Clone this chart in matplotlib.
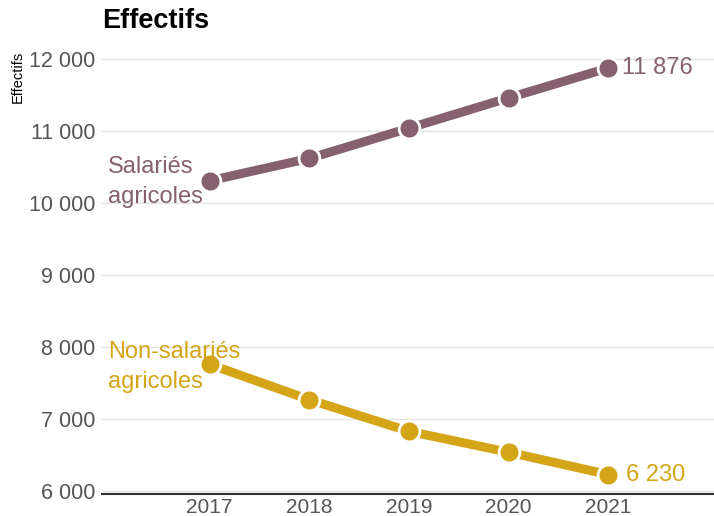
import matplotlib
matplotlib.use("Agg")
import matplotlib.pyplot as plt
from matplotlib.ticker import FuncFormatter

years = [2017, 2018, 2019, 2020, 2021]
salaries = [10310, 10620, 11040, 11460, 11876]
non_salaries = [7760, 7270, 6830, 6540, 6230]
yticks = [6000, 7000, 8000, 9000, 10000, 11000, 12000]

c_sal = "#85616f"
c_non = "#d4a517"

plt.rcParams['font.family'] = ['Liberation Sans', 'DejaVu Sans']

fig = plt.figure(figsize=(7.14, 5.16), dpi=100)
ax = fig.add_axes([102/714, 22/516, 612/714, 454/516])

for vals, c in [(salaries, c_sal), (non_salaries, c_non)]:
    ax.plot(years, vals, color=c, lw=6.5, solid_capstyle='butt', zorder=3,
            marker='o', markersize=15, markerfacecolor=c,
            markeredgecolor='white', markeredgewidth=2)

ax.set_xlim(2015.92, 2022.06)
ax.set_ylim(5960, 12264)
ax.set_yticks(yticks)
ax.set_xticks(years)
ax.yaxis.set_major_formatter(FuncFormatter(lambda v, p: f"{int(v):,}".replace(",", " ")))
ax.grid(axis='y', color='#e3e3e3', lw=1)
ax.set_axisbelow(True)
for s in ['top', 'right', 'left']:
    ax.spines[s].set_visible(False)
ax.spines['bottom'].set_color('#333333')
ax.spines['bottom'].set_linewidth(1.5)
ax.tick_params(axis='y', length=0, labelsize=15.5, labelcolor='#555555', pad=5)
ax.tick_params(axis='x', length=0, labelsize=15, labelcolor='#555555', pad=3)

ax.text(2021.14, salaries[-1], f"{salaries[-1]:,}".replace(",", " "), color=c_sal,
        fontsize=17, va='center', ha='left')
ax.text(2021.18, non_salaries[-1], f"{non_salaries[-1]:,}".replace(",", " "), color=c_non,
        fontsize=17, va='center', ha='left')
ax.text(2015.98, 10290, "Salariés\nagricoles", color=c_sal, fontsize=17,
        va='center', ha='left', linespacing=1.45)
ax.text(2015.98, 7720, "Non-salariés\nagricoles", color=c_non, fontsize=17,
        va='center', ha='left', linespacing=1.45)

fig.text(102/714, 1 - 21/516, "Effectifs", fontsize=19.5, fontweight='bold',
         va='center', ha='left', color='black')
fig.text(18/714, 1 - 77/516, "Effectifs", fontsize=10.5, rotation=90,
         va='center', ha='center', color='black')

fig.savefig("out.png", dpi=100)
